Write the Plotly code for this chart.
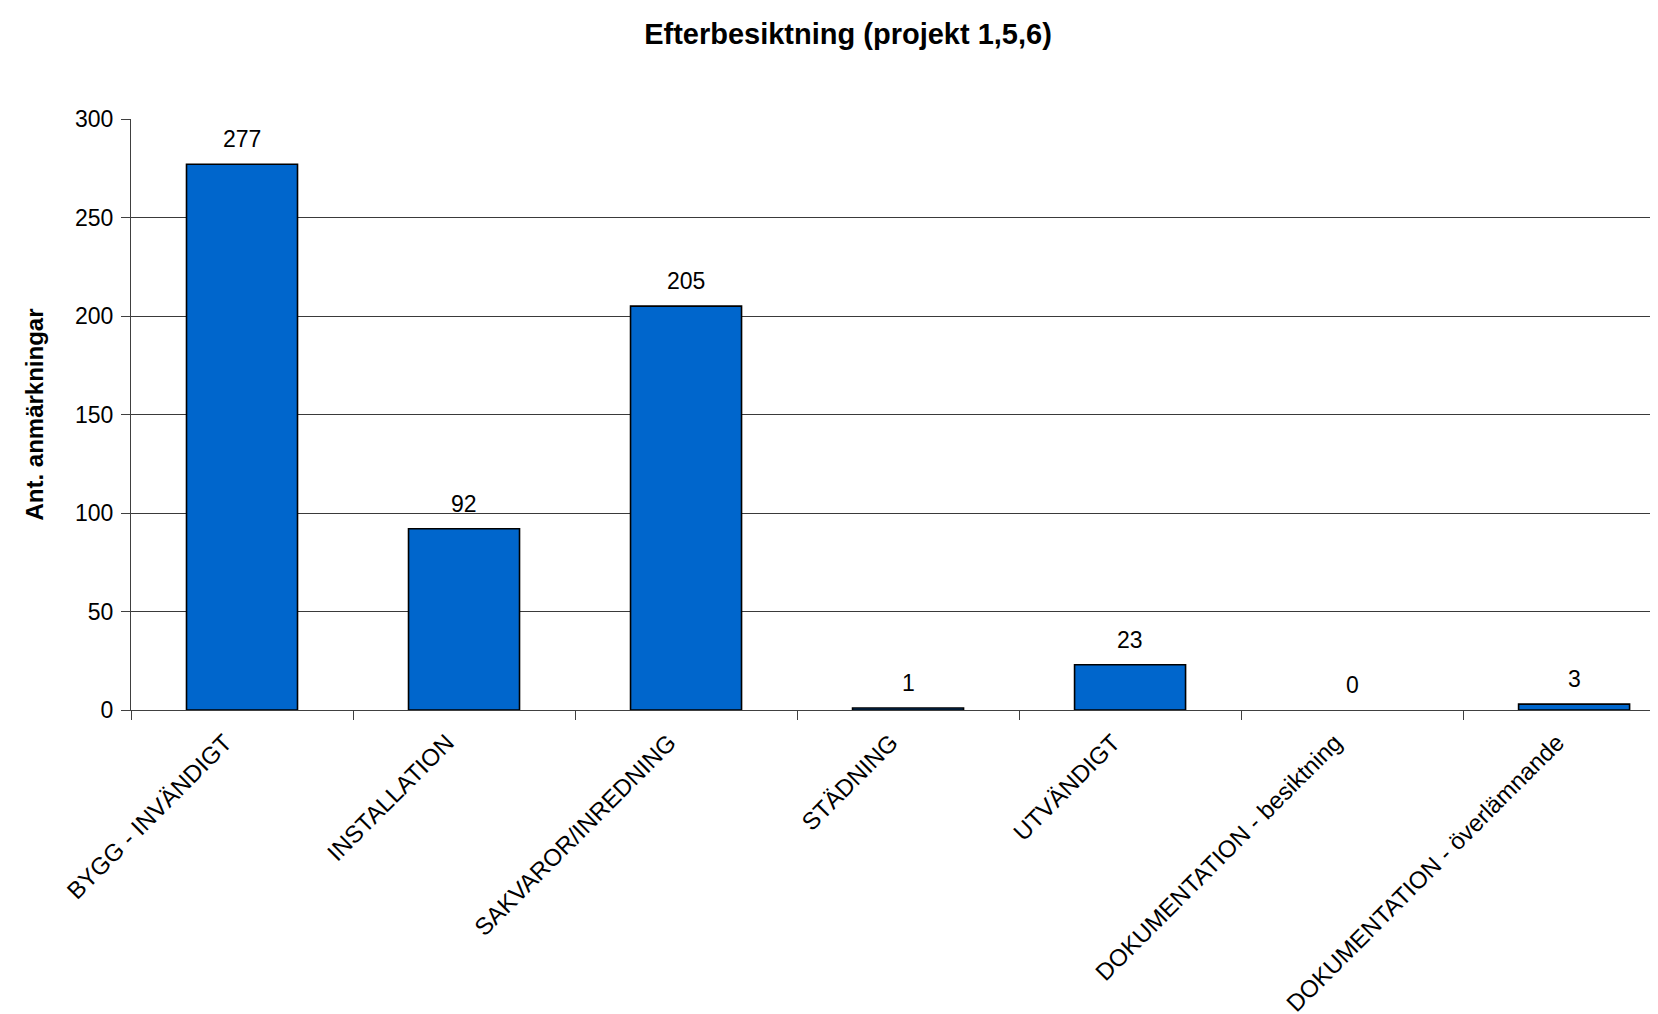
import plotly.graph_objects as go

categories = [
    "BYGG - INVÄNDIGT",
    "INSTALLATION",
    "SAKVAROR/INREDNING",
    "STÄDNING",
    "UTVÄNDIGT",
    "DOKUMENTATION - besiktning",
    "DOKUMENTATION - överlämnande",
]
values = [277, 92, 205, 1, 23, 0, 3]
y_ticks = [0, 50, 100, 150, 200, 250, 300]

title_text = "Efterbesiktning (projekt 1,5,6)"
y_title = "Ant. anmärkningar"

FONT = "Liberation Sans, Arial, sans-serif"

# no outline on empty bars (Excel draws nothing for 0)
outline_widths = [1.6 if v > 0 else 0 for v in values]

fig = go.Figure()
fig.add_trace(go.Bar(
    x=categories,
    y=values,
    width=0.5,
    marker=dict(color="#0066CC", line=dict(color="black", width=outline_widths)),
    hoverinfo="x+y",
))

for c, v in zip(categories, values):
    fig.add_annotation(
        x=c, y=v, xref="x", yref="y",
        text=str(v), showarrow=False,
        yanchor="bottom", yshift=10,
        font=dict(family=FONT, size=23, color="black"),
    )

fig.add_annotation(
    x=(26 - 123) / 1535, y=0.5, xref="paper", yref="paper",
    text="<b>" + y_title + "</b>", showarrow=False, textangle=-90,
    xanchor="center", yanchor="middle",
    font=dict(family=FONT, size=24, color="black"),
)

fig.update_layout(
    width=1658, height=1014,
    margin=dict(l=123, r=0, t=111, b=312),
    paper_bgcolor="white", plot_bgcolor="white",
    showlegend=False,
    font=dict(family=FONT, size=23, color="black"),
    title=dict(
        text="<b>" + title_text + "</b>",
        x=840 / 1658, xref="container", xanchor="center",
        y=1 - 26 / 1014, yref="container", yanchor="middle",
        font=dict(family=FONT, size=29, color="black"),
    ),
    bargap=0.5,
)

fig.update_xaxes(
    type="category",
    range=[-0.5, 6.414],
    tickangle=-45,
    tickson="boundaries",
    ticks="outside", ticklen=9, tickcolor="#404040", tickwidth=1,
    showline=True, linecolor="#404040", linewidth=1,
    showgrid=False,
    tickfont=dict(family=FONT, size=24, color="black"),
    ticklabelshift=-17,
    ticklabelstandoff=8,
)

fig.update_yaxes(
    range=[0, 300],
    tickvals=y_ticks,
    ticks="outside", ticklen=9, tickcolor="#404040", tickwidth=1,
    showline=True, linecolor="#404040", linewidth=1,
    showgrid=True, gridcolor="#3a3a3a", gridwidth=1,
    zeroline=False,
    tickfont=dict(family=FONT, size=23, color="black"),
    ticklabelstandoff=3,
)

fig.write_html("out.html")
